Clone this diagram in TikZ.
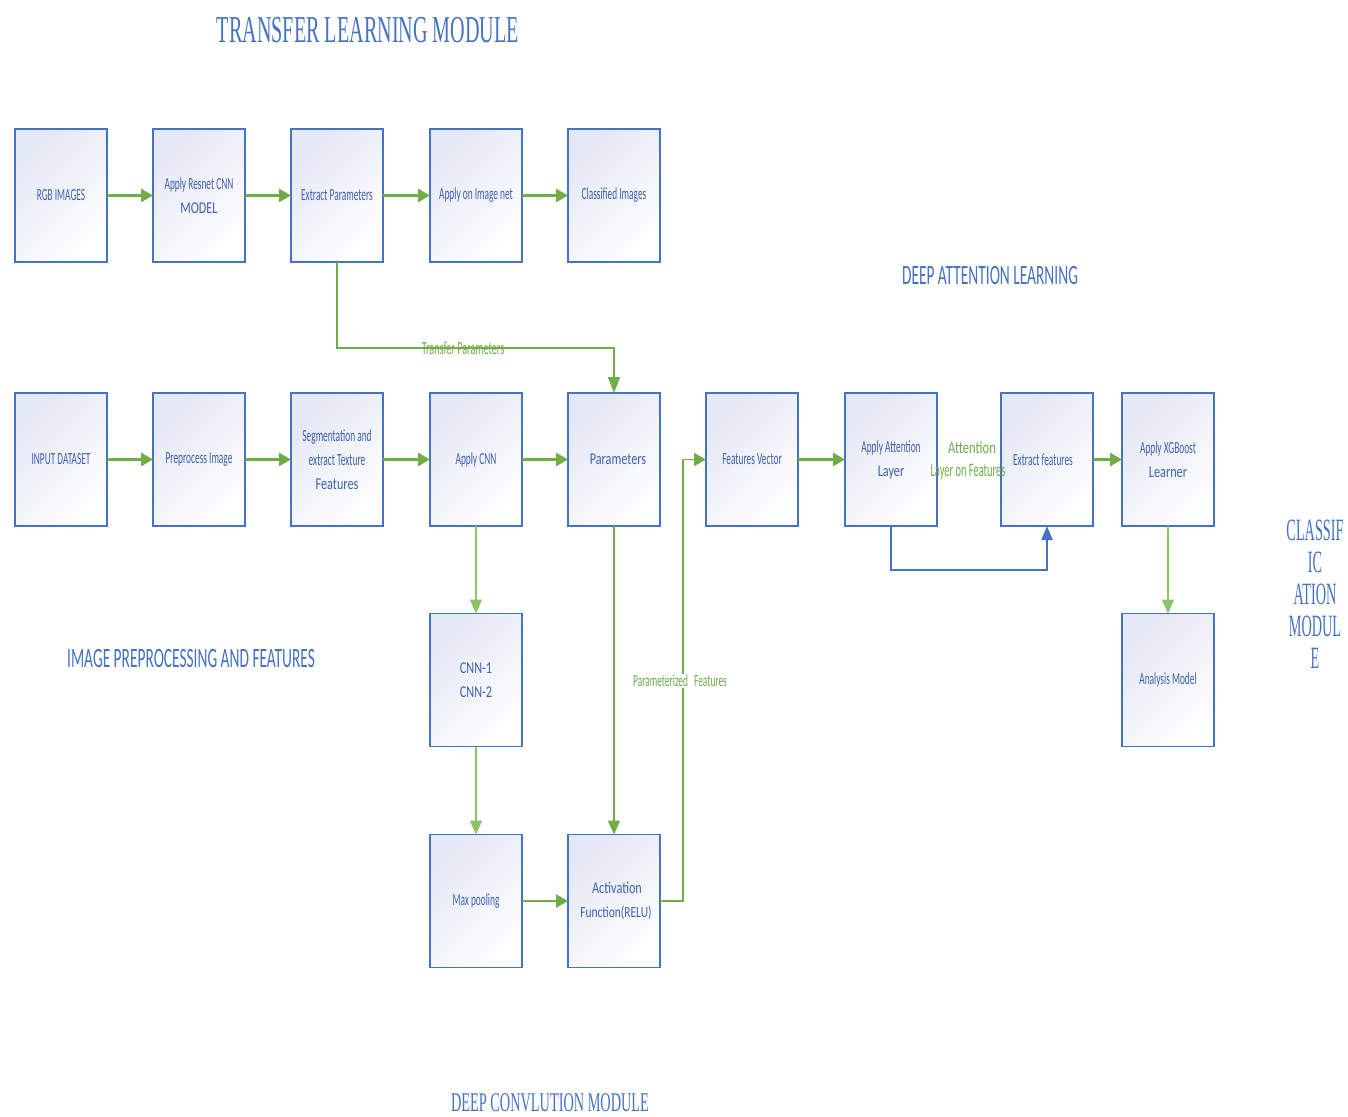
\documentclass[tikz,border=0pt]{standalone}
\usepackage{fontspec}
\usetikzlibrary{arrows.meta}
\newfontfamily\boxfont[FakeStretch=0.55]{Carlito}
\newfontfamily\boxfontw[FakeStretch=0.74]{Carlito}
\newfontfamily\titleserif[FakeStretch=0.53]{Liberation Serif}
\newfontfamily\titleserifn[FakeStretch=0.46]{Liberation Serif}
\definecolor{bblue}{HTML}{4472C4}
\definecolor{tblue}{HTML}{3F5FB0}
\definecolor{agreen}{HTML}{70AD47}
\definecolor{lgreen}{HTML}{8BC46A}
\definecolor{shadec}{HTML}{E4E7F4}
\newcommand{\bigline}[1]{{\boxfontw\fontsize{16.5}{24}\selectfont #1}}
\tikzset{
  boxnode/.style={draw=bblue, line width=1.3pt, minimum width=92pt, minimum height=133pt,
    inner sep=0pt, outer sep=0pt, align=center, text=tblue, font=\boxfont\fontsize{17}{24}\selectfont,
    top color=shadec, bottom color=white, shading angle=45},
  garrow/.style={draw=agreen, line width=2.6pt, -{Triangle[length=12pt,width=13pt]}},
  tarrow/.style={draw=lgreen, line width=1.6pt, -{Triangle[length=14pt,width=12pt]}},
  tline/.style={draw=agreen, line width=1.3pt},
  barrow/.style={draw=bblue, line width=2.4pt, -{Triangle[length=14pt,width=11pt]}},
  glabel/.style={text=agreen, font=\boxfont\fontsize{17}{24}\selectfont, inner sep=1pt},
  sanstitle/.style={text=bblue, font=\boxfont\fontsize{28}{30}\selectfont},
}
\begin{document}
\begin{tikzpicture}[x=1pt,y=-1pt]
\useasboundingbox (0,0) rectangle (1348,1116);
\fill[white] (0,0) rectangle (1348,1116);
% titles
\node[text=bblue, font=\titleserif\fontsize{38}{40}\selectfont] (t1) at (368,30) {TRANSFER LEARNING MODULE};
\node[sanstitle] (t2) at (990,276) {DEEP ATTENTION LEARNING};
\node[sanstitle] (t3) at (191,659) {IMAGE PREPROCESSING AND FEATURES};
\node[text=bblue, font=\titleserif\fontsize{27}{30}\selectfont] (t4) at (550,1103) {DEEP CONVLUTION MODULE};
\node[text=bblue, font=\titleserifn\fontsize{31}{32}\selectfont, align=center] (t5) at (1315,594) {CLASSIF\\IC\\ATION\\MODUL\\E};
% row 1
\node[boxnode] (rgb) at (61,195.5) {RGB IMAGES};
\node[boxnode] (resnet) at (199,195.5) {Apply Resnet CNN\\\bigline{MODEL}};
\node[boxnode] (extp) at (337,195.5) {Extract Parameters};
\node[boxnode] (imgnet) at (476,195.5) {Apply on Image net};
\node[boxnode] (classi) at (614,195.5) {Classified Images};
% row 2
\node[boxnode] (input) at (61,459.5) {INPUT DATASET};
\node[boxnode] (prep) at (199,459.5) {Preprocess Image};
\node[boxnode] (seg) at (337,459.5) {Segmentation and\\extract Texture\\\bigline{Features}};
\node[boxnode] (acnn) at (476,459.5) {Apply CNN};
\node[boxnode] (params) at (614,459.5) {\hspace*{8pt}\bigline{Parameters}};
\node[boxnode] (fvec) at (752,459.5) {Features Vector};
\node[boxnode, line width=1.8pt] (att) at (891,459.5) {Apply Attention\\\bigline{Layer}};
\node[boxnode] (extf) at (1047,459.5) {Extract features\hspace*{8pt}};
\node[boxnode] (xgb) at (1168,459.5) {Apply XGBoost\\\bigline{Learner}};
% lower
\node[boxnode] (cnn12) at (476,680) {\bigline{CNN-1}\\\bigline{CNN-2}};
\node[boxnode] (maxp) at (476,901) {Max pooling};
\node[boxnode] (actf) at (614,901) {\hspace*{6pt}\bigline{Activation}\\{\boxfontw\fontsize{15.5}{24}\selectfont \hspace*{4pt}Function(RELU)}};
\node[boxnode] (anal) at (1168,680) {Analysis Model};
% row1 arrows
\draw[garrow] (rgb) -- (resnet);
\draw[garrow] (resnet) -- (extp);
\draw[garrow] (extp) -- (imgnet);
\draw[garrow] (imgnet) -- (classi);
% transfer parameters
\draw[tline, line width=1.8pt, -{Triangle[length=16pt,width=12pt]}] (extp.south) -- (337,348) -- (614,348) -- (params.north);
\node[glabel, font=\boxfont\fontsize{18.5}{24}\selectfont] (lbltp) at (463,348) {Transfer Parameters};
% row2 arrows
\draw[garrow] (input) -- (prep);
\draw[garrow] (prep) -- (seg);
\draw[garrow] (seg) -- (acnn);
\draw[garrow] (acnn) -- (params);
\draw[garrow] (fvec) -- (att);
\draw[garrow] (extf) -- (xgb);
% vertical
\draw[tarrow] (acnn) -- (cnn12);
\draw[tarrow] (cnn12) -- (maxp);
\draw[tarrow, draw=agreen] (params) -- (actf);
\draw[garrow] (maxp) -- (actf);
\draw[tarrow] (xgb) -- (anal);
% parameterized features
\coordinate (pf1) at (683,901);
\coordinate (pf2) at (683,459.5);
\draw[tline, -{Triangle[length=12pt,width=13pt]}] (actf.east) -- (pf1) -- (pf2) -- (fvec.west);
\node[glabel, fill=white] (lblpf) at (680,681) {Parameterized\hspace{4pt} Features};
% attention loop
\coordinate (al1) at (891,570);
\coordinate (al2) at (1047,570);
\draw[barrow] (att.south) -- (al1) -- (al2) -- (extf.south);
\node[glabel, font=\boxfontw\fontsize{17}{24}\selectfont] (lblat1) at (972,448) {Attention};
\node[glabel, font=\boxfont\fontsize{19}{24}\selectfont] (lblat2) at (968,472) {Layer on Features};
\end{tikzpicture}
\end{document}
